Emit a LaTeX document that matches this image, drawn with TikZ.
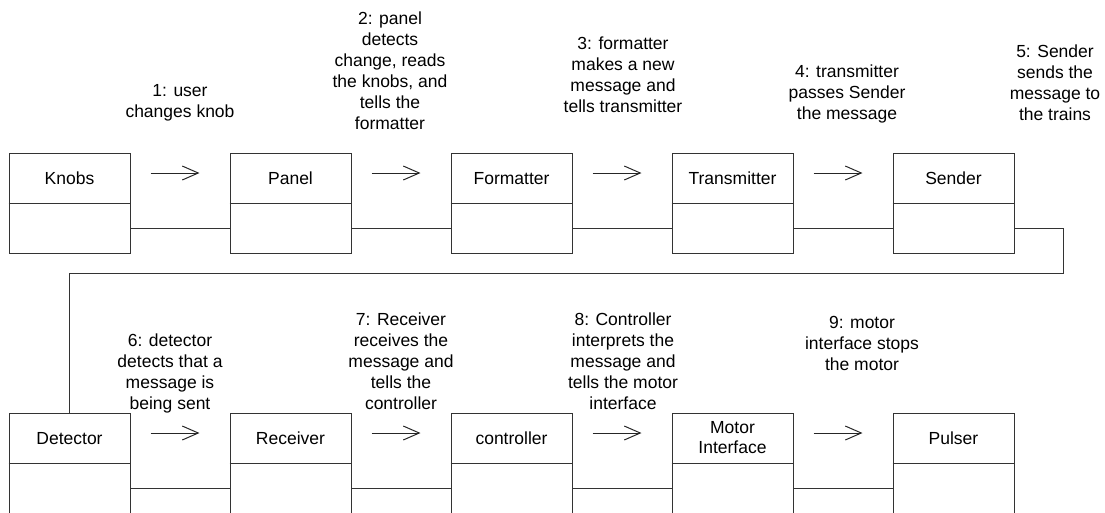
\documentclass[tikz,border=0pt]{standalone}
\usepackage{fontspec}
\setmainfont{Liberation Sans}
\usetikzlibrary{arrows.meta}
\begin{document}
\begin{tikzpicture}[x=1pt,y=-1pt,
  box/.style={draw=black!80, line width=1pt, minimum width=121pt, minimum height=100pt, inner sep=0pt},
  boxname/.style={font=\fontsize{17.5}{20}\selectfont, inner sep=0pt, text height=12.5pt, text depth=0pt},
  boxname2/.style={font=\fontsize{17.5}{20}\selectfont, inner sep=0pt, align=center},
  msg/.style={font=\fontsize{17.5}{21}\selectfont, align=center, inner sep=0pt, anchor=north, execute at begin node=\strut},
  link/.style={draw=black!80, line width=1pt},
  flow/.style={draw=black!85, line width=1pt, -{Straight Barb[length=16pt,width=14pt,line width=1pt]}}
]
\useasboundingbox (0,0) rectangle (1105,512);
\clip (0,0) rectangle (1105,512);

% upper row of objects
\node[box] (knobs)   at (69.5,203)  {};
\node[box] (panel)   at (290.5,203) {};
\node[box] (fmt)     at (511.5,203) {};
\node[box] (trans)   at (732.5,203) {};
\node[box] (sender)  at (953.5,203) {};
% lower row of objects
\node[box] (detector) at (69.5,463)  {};
\node[box] (receiver) at (290.5,463) {};
\node[box] (ctrl)     at (511.5,463) {};
\node[box] (motor)    at (732.5,463) {};
\node[box] (pulser)   at (953.5,463) {};

% compartment dividers and names
\foreach \b/\t in {knobs/Knobs, panel/Panel, fmt/Formatter, trans/Transmitter, sender/Sender,
                   detector/Detector, receiver/Receiver, ctrl/controller, pulser/Pulser}{
  \draw[link] (\b.west) -- (\b.east);
  \node[boxname] (\b-name) at ([yshift=25pt]\b.center) {\t};
}
\draw[link] (motor.west) -- (motor.east);
\node[boxname2] (motor-name) at ([yshift=25pt]motor.center) {Motor\\Interface};

% links between neighbouring objects
\foreach \a/\b in {knobs/panel, panel/fmt, fmt/trans, trans/sender,
                   detector/receiver, receiver/ctrl, ctrl/motor, motor/pulser}{
  \draw[link] ([yshift=-25pt]\a.east) -- ([yshift=-25pt]\b.west);
  \draw[flow] ([xshift=20pt,yshift=30pt]\a.east) -- ([xshift=-30pt,yshift=30pt]\b.west);
}

% wrap-around link from Sender to Detector
\coordinate (wrapA) at (1063,228);
\coordinate (wrapB) at (1063,273);
\draw[link] ([yshift=-25pt]sender.east) -- (wrapA) -- (wrapB) -| (detector.north);

% message labels
\node[msg] (m1) at (180,84.6)  {1: user\\changes knob};
\node[msg] (m2) at (390,11.6)  {2: panel\\detects\\change, reads\\the knobs, and\\tells the\\formatter};
\node[msg] (m3) at (623,36.6)  {3: formatter\\makes a new\\message and\\tells transmitter};
\node[msg] (m4) at (847,64.6)  {4: transmitter\\passes Sender\\the message};
\node[msg] (m5) at (1055,44.6) {5: Sender\\sends the\\message to\\the trains};
\node[msg] (m6) at (170,333.6) {6: detector\\detects that a\\message is\\being sent};
\node[msg] (m7) at (401,312.6) {7: Receiver\\receives the\\message and\\tells the\\controller};
\node[msg] (m8) at (623,312.6) {8: Controller\\interprets the\\message and\\tells the motor\\interface};
\node[msg] (m9) at (862,315.6) {9: motor\\interface stops\\the motor};
\end{tikzpicture}
\end{document}
